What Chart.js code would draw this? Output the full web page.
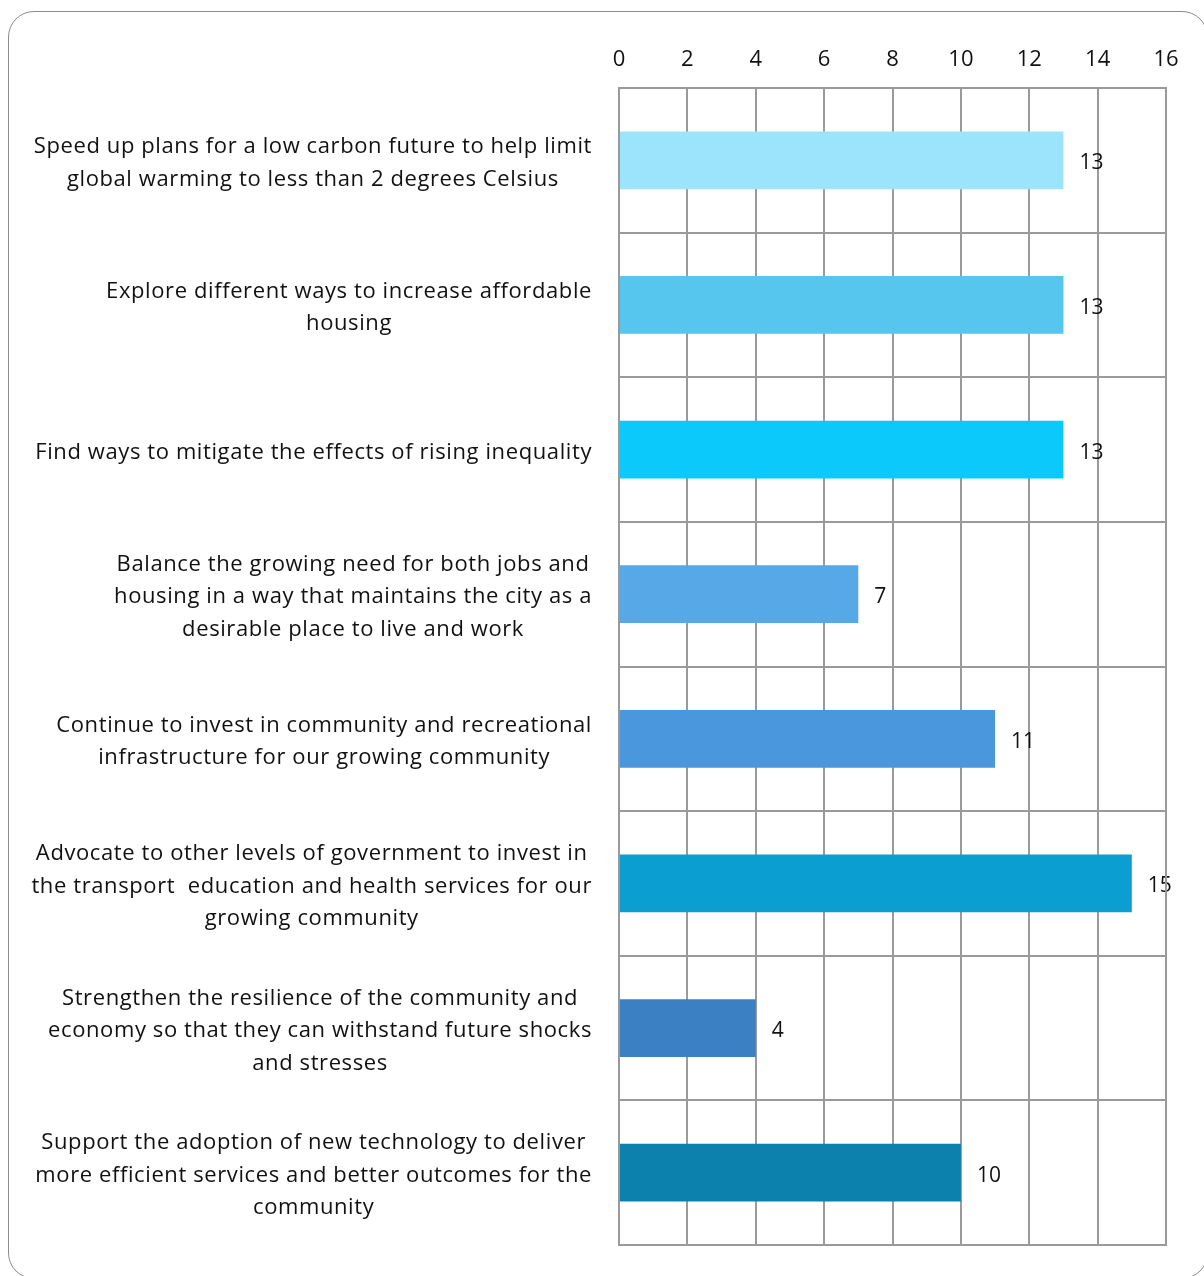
<!DOCTYPE html>
<html>
<head>
<meta charset="utf-8">
<script src="https://cdn.jsdelivr.net/npm/chart.js@4.4.1/dist/chart.umd.min.js"></script>
<style>
  html, body { margin: 0; padding: 0; background: #fff; overflow: hidden; }
  #wrap { position: relative; width: 1204px; height: 1276px; }
  #frame {
    position: absolute; left: 8px; top: 11px; width: 1200px; height: 1268px;
    border: 1.5px solid #8c8c8c; border-radius: 26px; box-sizing: border-box;
  }
  canvas { position: absolute; left: 0; top: 0; }
</style>
</head>
<body>
<div id="wrap">
  <div id="frame"></div>
  <canvas id="priorityChart" width="1204" height="1276"></canvas>
</div>
<script>
const categories = [
  ['Speed up plans for a low carbon future to help limit', 'global warming to less than 2 degrees Celsius'],
  ['Explore different ways to increase affordable', 'housing'],
  ['Find ways to mitigate the effects of rising inequality'],
  ['Balance the growing need for both jobs and', 'housing in a way that maintains the city as a', 'desirable place to live and work'],
  ['Continue to invest in community and recreational', 'infrastructure for our growing community'],
  ['Advocate to other levels of government to invest in', 'the transport  education and health services for our', 'growing community'],
  ['Strengthen the resilience of the community and', 'economy so that they can withstand future shocks', 'and stresses'],
  ['Support the adoption of new technology to deliver', 'more efficient services and better outcomes for the', 'community']
];
const votes = [13, 13, 13, 7, 11, 15, 4, 10];
const barColors = ['#9be4fb', '#56c6ee', '#0bc9fb', '#56a8e6', '#4a97de', '#0a9ed1', '#3b80c2', '#0c81ae'];
const xTicks = [0, 2, 4, 6, 8, 10, 12, 14, 16];

const FONT = '"Open Sans", "Noto Sans", sans-serif';
const gridColor = '#9a9a9a';

// category labels: block right-aligned, lines centred inside the block
const labelPlugin = {
  id: 'labelPlugin',
  afterDraw(chart) {
    const ctx = chart.ctx;
    const yScale = chart.scales.y;
    const xScale = chart.scales.x;
    const rightEdge = 592;
    const lineH = 32.5;
    ctx.save();
    ctx.font = '22px ' + FONT;
    ctx.letterSpacing = '0.6px';
    ctx.fillStyle = '#111';
    ctx.textBaseline = 'middle';
    ctx.textAlign = 'center';
    categories.forEach((lines, i) => {
      const cy = yScale.getPixelForValue(i) + 3;
      let widest = 0;
      lines.forEach(l => { widest = Math.max(widest, ctx.measureText(l).width); });
      const cx = rightEdge - widest / 2;
      const top = cy - (lines.length - 1) * lineH / 2;
      lines.forEach((l, j) => ctx.fillText(l, cx, top + j * lineH));
    });
    // value labels
    ctx.textAlign = 'left';
    ctx.letterSpacing = '0px';
    ctx.font = '21px ' + FONT;
    const meta = chart.getDatasetMeta(0);
    meta.data.forEach((bar, i) => {
      ctx.fillText(String(votes[i]), xScale.getPixelForValue(votes[i]) + 16, bar.y + 3);
    });
    ctx.restore();
  }
};

new Chart(document.getElementById('priorityChart').getContext('2d'), {
  type: 'bar',
  data: {
    labels: categories.map(c => c.join(' ')),
    datasets: [{
      data: votes,
      backgroundColor: barColors,
      borderWidth: 0,
      barPercentage: 0.4,
      categoryPercentage: 1.0
    }]
  },
  options: {
    indexAxis: 'y',
    responsive: false,
    animation: false,
    layout: { padding: { left: 0, right: 38, top: 0, bottom: 31 } },
    plugins: { legend: { display: false }, tooltip: { enabled: false } },
    scales: {
      x: {
        position: 'top',
        min: 0,
        max: 16,
        afterBuildTicks(scale) { scale.ticks = xTicks.map(v => ({ value: v })); },
        afterFit(scale) { scale.height = 88; },
        grid: { color: gridColor, lineWidth: 2, drawTicks: false },
        border: { color: gridColor, width: 2 },
        ticks: { color: '#111', font: { family: FONT, size: 22 }, padding: 15 }
      },
      y: {
        afterFit(scale) { scale.width = 619; },
        grid: { color: gridColor, lineWidth: 2, drawTicks: false, offset: true },
        border: { color: gridColor, width: 2 },
        ticks: { display: false }
      }
    }
  },
  plugins: [labelPlugin, {
    id: 'frameLines',
    afterDraw(chart) {
      const a = chart.chartArea;
      const ctx = chart.ctx;
      ctx.save();
      ctx.strokeStyle = gridColor;
      ctx.lineWidth = 2;
      ctx.strokeRect(a.left, a.top, a.right - a.left, a.bottom - a.top);
      ctx.restore();
    }
  }]
});
</script>
</body>
</html>
